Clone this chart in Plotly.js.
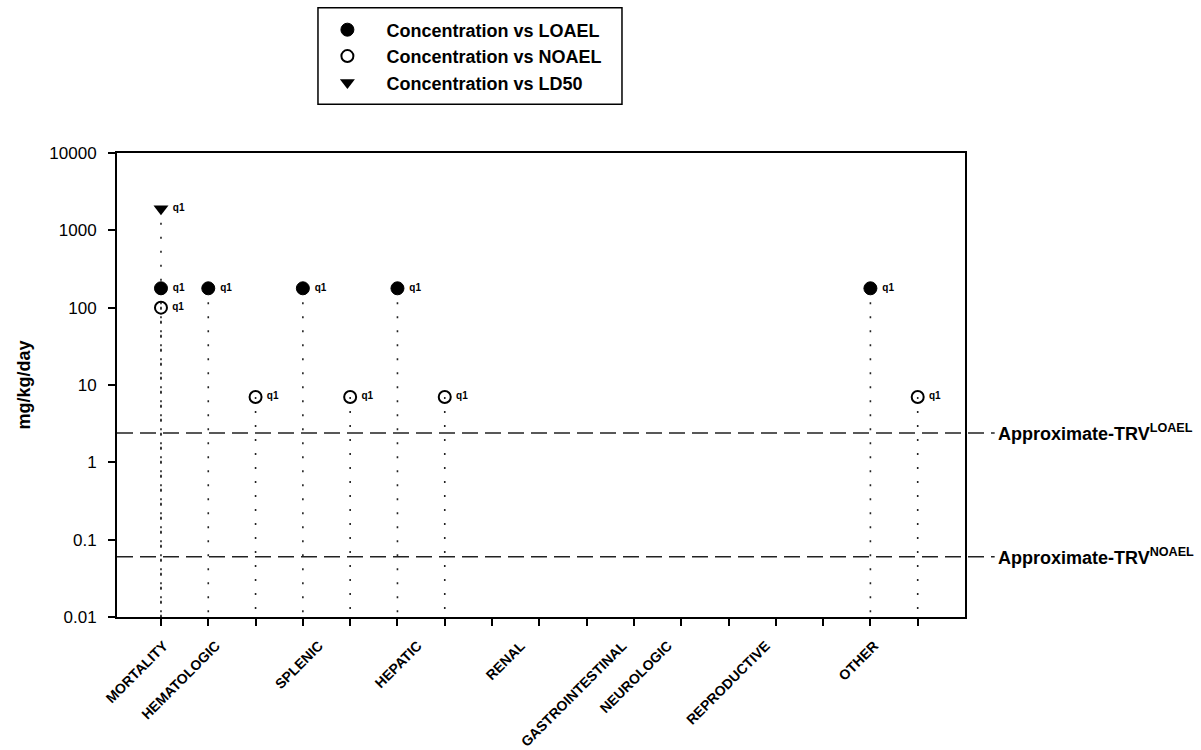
<!DOCTYPE html>
<html>
<head>
<meta charset="utf-8">
<script src="https://cdn.plot.ly/plotly-3.0.1.min.js"></script>
<style>html,body{margin:0;padding:0;background:#fff;}#chart{width:1201px;height:750px;}</style>
</head>
<body>
<div id="chart"></div>
<script>
// ---- data ----
var categories = ["MORTALITY","HEMATOLOGIC","SPLENIC","HEPATIC","RENAL","GASTROINTESTINAL","NEUROLOGIC","REPRODUCTIVE","OTHER"];
var categoryLabelAt = [0.06, 1.16, 3.34, 5.43, 7.61, 9.76, 10.72, 12.79, 15.08];
var slots = [0,1,2,3,4,5,6,7,8,9,10,11,12,13,14,15,16];

var seriesNames = ["Concentration vs LOAEL", "Concentration vs NOAEL", "Concentration vs LD50"];

var loaelSlot = [0, 1, 3, 5, 15];
var loaelValue = [178, 178, 178, 178, 178];
var loaelLabel = ["q1","q1","q1","q1","q1"];

var noaelSlot = [0, 2, 4, 6, 16];
var noaelValue = [100, 7, 7, 7, 7];
var noaelLabel = ["q1","q1","q1","q1","q1"];

var ld50Slot = [0];
var ld50Value = [1900];
var ld50Label = ["q1"];

var trvLoael = 2.4;
var trvNoael = 0.06;

var yTickVals = [0.01, 0.1, 1, 10, 100, 1000, 10000];
var yTickText = ["0.01","0.1","1","10","100","1000","10000"];
var yMin = 0.01;

// ---- build ----
var FONT = "Liberation Sans, Arial, Helvetica, sans-serif";
var PAD = "\u00a0\u00a0";
function padQ(a) { return a.map(function (s) { return "\u00a0" + s; }); }

function stems(xs, ys) {
  var sx = [], sy = [];
  for (var i = 0; i < xs.length; i++) { sx.push(xs[i], xs[i], null); sy.push(ys[i], yMin, null); }
  return {sx: sx, sy: sy};
}
var allX = loaelSlot.concat(noaelSlot, ld50Slot);
var allY = loaelValue.concat(noaelValue, ld50Value);
var st = stems(allX, allY);

var qFont = {family: FONT, size: 10, color: "#000", weight: "bold"};

var traces = [
  {x: st.sx, y: st.sy, mode: "lines", line: {color: "#222", width: 1.6, dash: "2px,12px"},
   showlegend: false, hoverinfo: "skip"},
  {x: loaelSlot, y: loaelValue, name: PAD + seriesNames[0], mode: "markers+text",
   text: padQ(loaelLabel), textposition: "middle right", textfont: qFont,
   marker: {symbol: "circle", size: 13, color: "#000", line: {color: "#000", width: 1}}},
  {x: noaelSlot, y: noaelValue, name: PAD + seriesNames[1], mode: "markers+text",
   text: padQ(noaelLabel), textposition: "middle right", textfont: qFont,
   marker: {symbol: "circle-open", size: 12, color: "#000", line: {color: "#000", width: 2}}},
  {x: ld50Slot, y: ld50Value, name: PAD + seriesNames[2], mode: "markers+text",
   text: padQ(ld50Label), textposition: "middle right", textfont: qFont,
   marker: {symbol: "triangle-down", size: 13, color: "#000"}},
  {x: categoryLabelAt, y: categoryLabelAt.map(function(){return 1;}), xaxis: "x2", mode: "markers",
   marker: {opacity: 0}, showlegend: false, hoverinfo: "skip"}
];

var layout = {
  width: 1201, height: 750,
  margin: {l: 117, r: 236, t: 151, b: 133},
  paper_bgcolor: "#fff", plot_bgcolor: "#fff",
  font: {family: FONT, color: "#000"},
  showlegend: true,
  legend: {x: 0.2375, y: 1.305, xanchor: "left", yanchor: "top",
    font: {family: FONT, size: 18, weight: "bold", color: "#000"},
    bgcolor: "rgba(0,0,0,0)", borderwidth: 0, itemwidth: 48},
  xaxis: {range: [-0.93, 17], tickvals: slots, showticklabels: false, automargin: false,
    ticks: "outside", ticklen: 7, tickwidth: 2, tickcolor: "#000",
    showline: true, linecolor: "#000", linewidth: 2, mirror: true,
    showgrid: false, zeroline: false, fixedrange: true},
  xaxis2: {overlaying: "x", matches: "x", range: [-0.93, 17], side: "bottom", automargin: false,
    tickvals: categoryLabelAt, ticktext: categories, tickangle: -45, ticks: "",
    ticklabelstandoff: 17,
    tickfont: {family: FONT, size: 14, weight: "bold", color: "#000"},
    showline: false, showgrid: false, zeroline: false},
  yaxis: {type: "log", range: [-2, 4], tickvals: yTickVals, ticktext: yTickText, automargin: false,
    ticks: "outside", ticklen: 7, tickwidth: 2, tickcolor: "#000",
    ticklabelstandoff: 8,
    tickfont: {family: FONT, size: 17, color: "#000"},
    showline: true, linecolor: "#000", linewidth: 2, mirror: true,
    showgrid: false, zeroline: false,
    title: {text: "mg/kg/day", font: {family: FONT, size: 18, weight: "bold", color: "#000"}, standoff: 14}},
  shapes: [
    {type: "line", xref: "paper", yref: "y", x0: 0, x1: 1.035, y0: trvLoael, y1: trvLoael,
     line: {color: "#222", width: 1.6, dash: "16px,7px"}},
    {type: "line", xref: "paper", yref: "y", x0: 0, x1: 1.035, y0: trvNoael, y1: trvNoael,
     line: {color: "#222", width: 1.6, dash: "16px,7px"}},
    {type: "rect", xref: "paper", yref: "paper", x0: 0.237, x1: 0.5955, y0: 1.105, y1: 1.313,
     line: {color: "#000", width: 1.5}, fillcolor: "rgba(0,0,0,0)"}
  ],
  annotations: [
    {xref: "paper", yref: "y", x: 1.037, y: Math.log10(trvLoael), xanchor: "left", yanchor: "middle",
     text: "Approximate-TRV<sup>LOAEL</sup>", showarrow: false,
     font: {family: FONT, size: 18, weight: "bold", color: "#000"}},
    {xref: "paper", yref: "y", x: 1.037, y: Math.log10(trvNoael), xanchor: "left", yanchor: "middle",
     text: "Approximate-TRV<sup>NOAEL</sup>", showarrow: false,
     font: {family: FONT, size: 18, weight: "bold", color: "#000"}}
  ]
};

Plotly.newPlot("chart", traces, layout, {displayModeBar: false, staticPlot: true});
</script>
</body>
</html>
